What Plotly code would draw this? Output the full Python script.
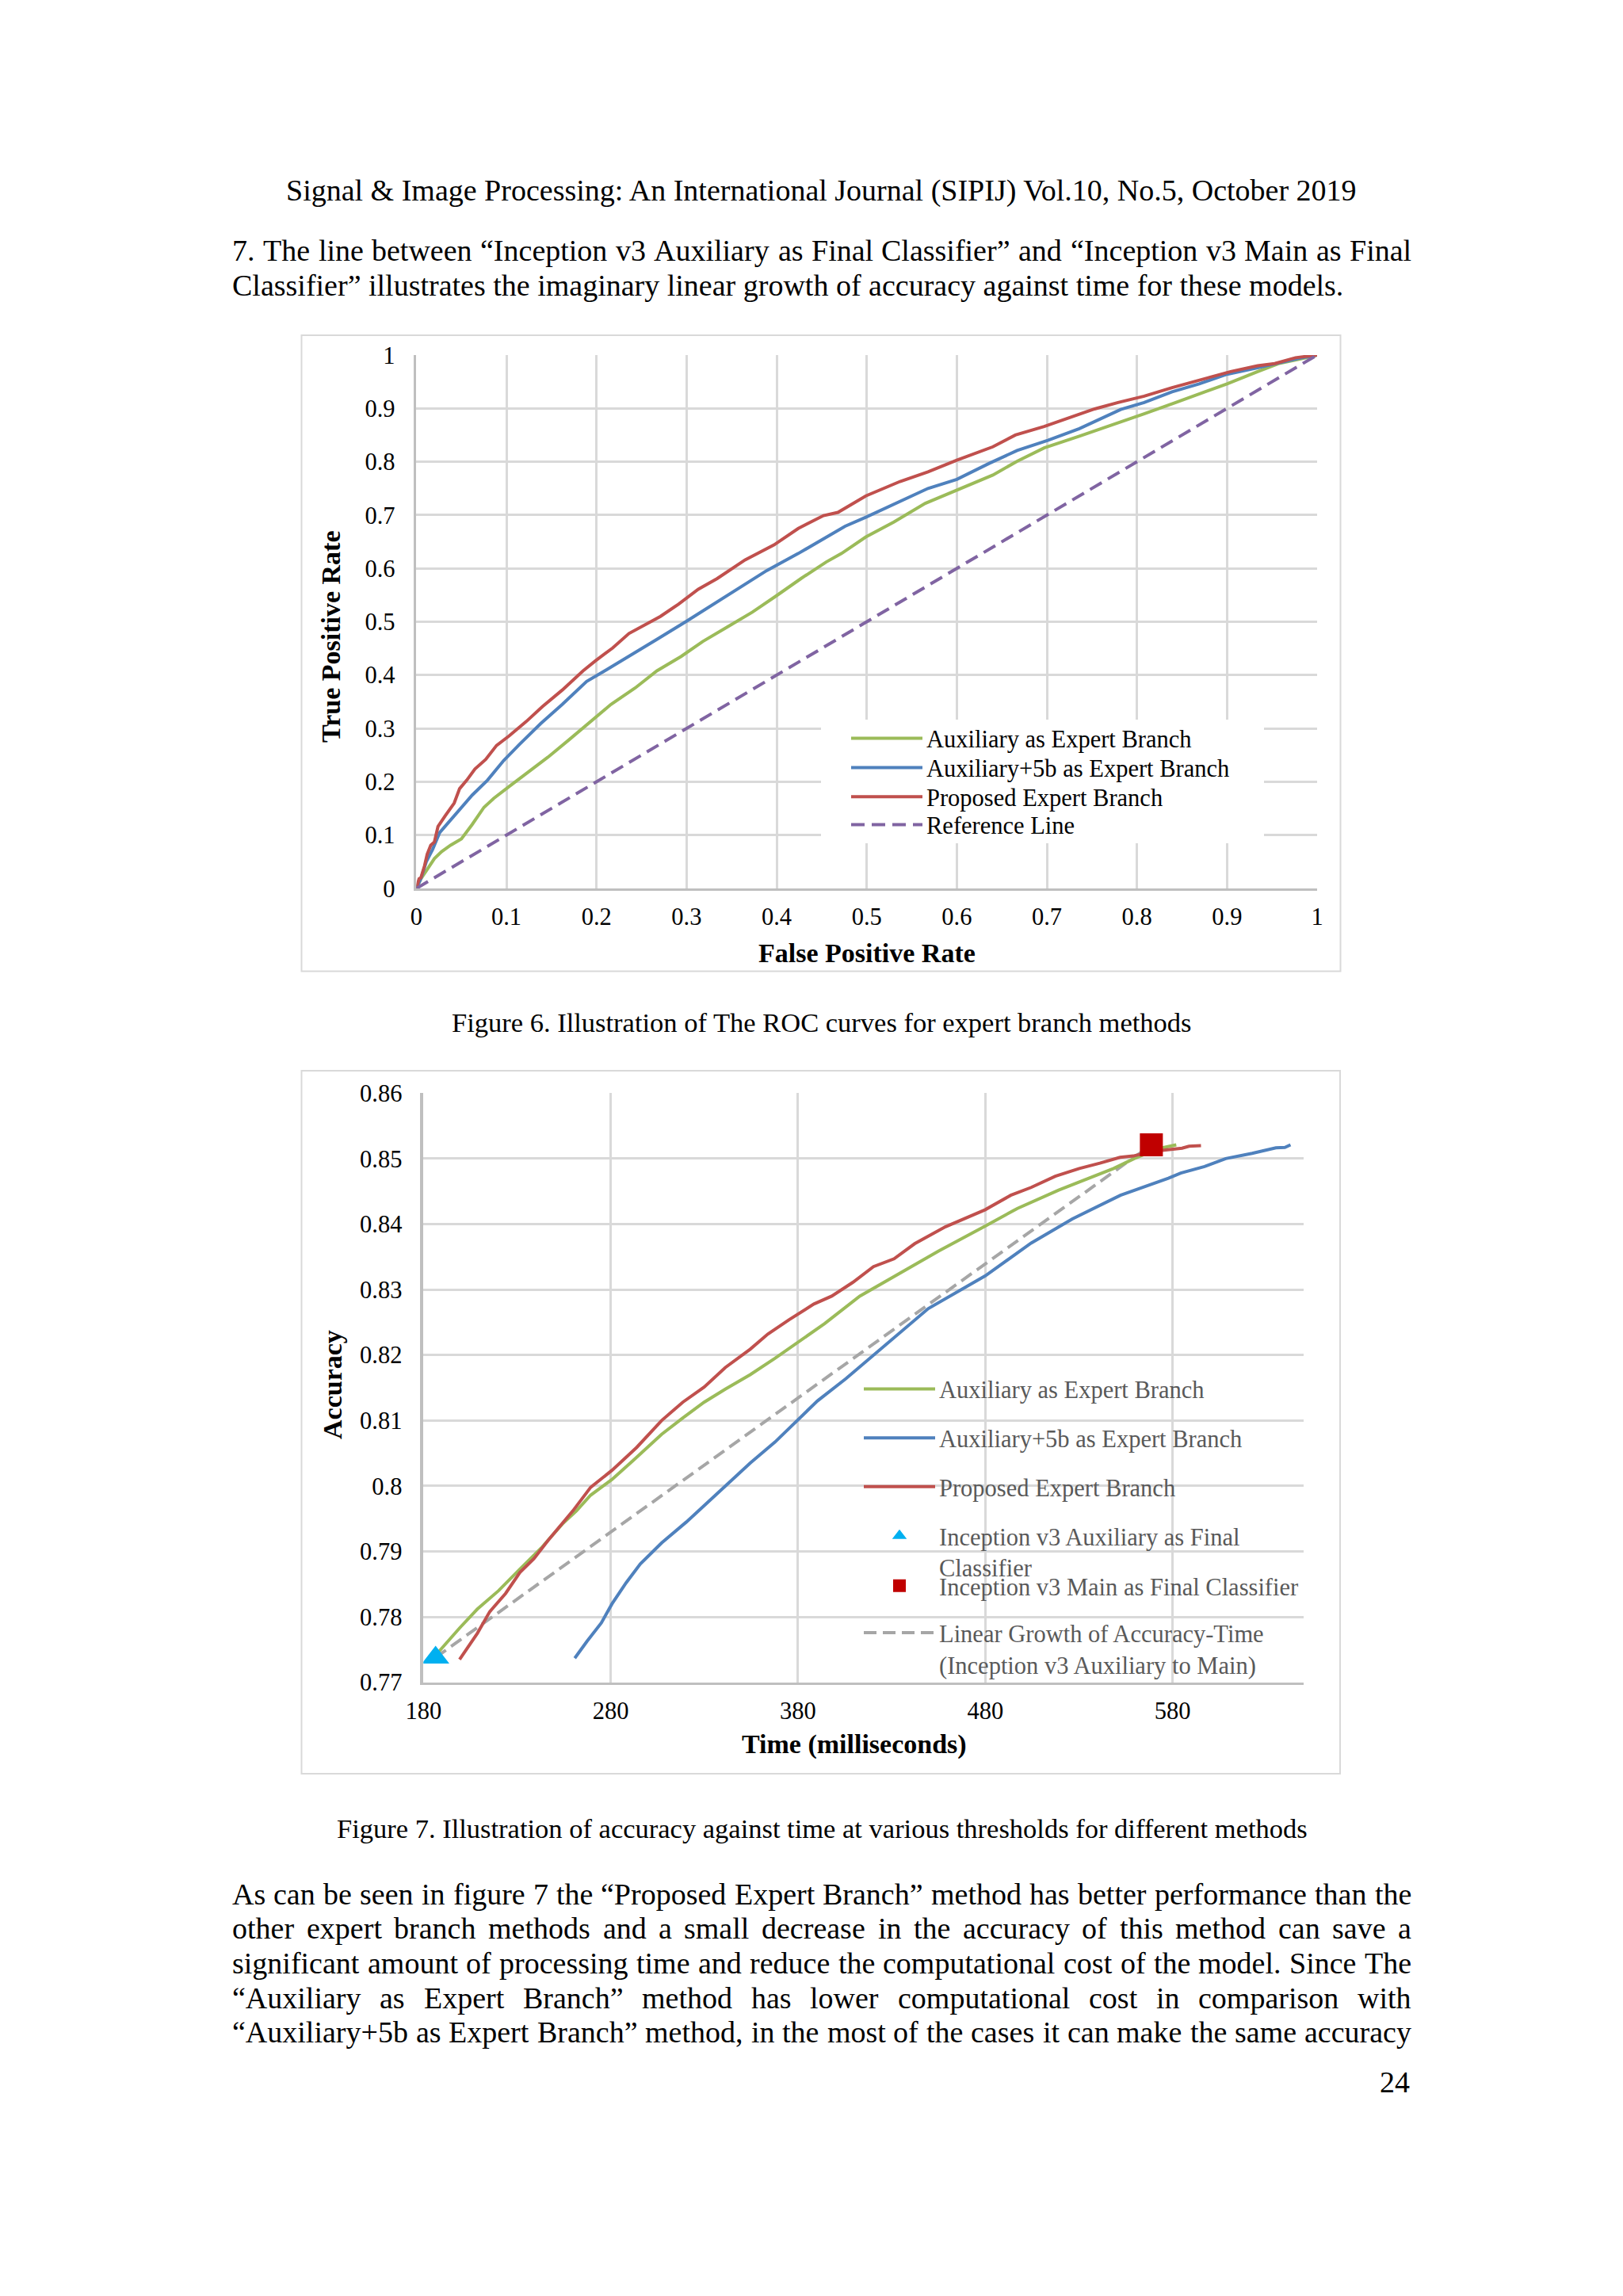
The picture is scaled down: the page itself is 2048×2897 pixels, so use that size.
import plotly.graph_objects as go

PAGE_W, PAGE_H = 2048, 2897
OFF = 8                     # default body margin of the html page
W, H = PAGE_W - 2 * OFF, PAGE_H - 2 * OFF
SERIF = "Liberation Serif, 'Times New Roman', Times, serif"

# ---------------- Figure 6: ROC curves ----------------
roc_ticks = [0, 0.1, 0.2, 0.3, 0.4, 0.5, 0.6, 0.7, 0.8, 0.9, 1]
roc_tick_labels = ["0", "0.1", "0.2", "0.3", "0.4", "0.5", "0.6", "0.7", "0.8", "0.9", "1"]

aux_fpr = [0, 0.005, 0.013, 0.02, 0.028, 0.038, 0.05, 0.062, 0.075, 0.086, 0.103, 0.122, 0.146,
           0.169, 0.196, 0.216, 0.243, 0.267, 0.294, 0.318, 0.345, 0.373, 0.4, 0.427, 0.455, 0.472,
           0.499, 0.53, 0.565, 0.6, 0.64, 0.667, 0.697, 0.736, 0.778, 0.808, 0.843, 0.873, 0.9,
           0.934, 0.957, 0.988, 1.0]
aux_tpr = [0, 0.018, 0.038, 0.056, 0.069, 0.081, 0.093, 0.12, 0.152, 0.169, 0.191, 0.215, 0.246,
           0.278, 0.317, 0.345, 0.376, 0.408, 0.435, 0.463, 0.49, 0.518, 0.549, 0.581, 0.612, 0.628,
           0.659, 0.687, 0.722, 0.746, 0.775, 0.801, 0.826, 0.848, 0.872, 0.89, 0.911, 0.929, 0.946,
           0.969, 0.984, 0.995, 1.0]

aux5b_fpr = [0, 0.005, 0.011, 0.018, 0.026, 0.036, 0.048, 0.062, 0.079, 0.097, 0.115, 0.138, 0.162,
             0.189, 0.209, 0.236, 0.267, 0.299, 0.334, 0.365, 0.389, 0.424, 0.452, 0.476, 0.499,
             0.53, 0.568, 0.6, 0.636, 0.667, 0.701, 0.736, 0.759, 0.782, 0.808, 0.839, 0.869, 0.9,
             0.934, 0.953, 0.98, 1.0]
aux5b_tpr = [0, 0.018, 0.05, 0.073, 0.105, 0.124, 0.148, 0.175, 0.203, 0.24, 0.271, 0.309, 0.345,
             0.388, 0.408, 0.435, 0.467, 0.5, 0.537, 0.57, 0.596, 0.628, 0.655, 0.679, 0.696,
             0.72, 0.75, 0.767, 0.797, 0.821, 0.84, 0.862, 0.88, 0.898, 0.911, 0.931, 0.946, 0.964,
             0.976, 0.984, 0.994, 1.0]

prop_fpr = [0, 0.003, 0.005, 0.009, 0.012, 0.016, 0.02, 0.024, 0.032, 0.042, 0.048, 0.056, 0.065,
            0.077, 0.089, 0.103, 0.122, 0.14, 0.162, 0.185, 0.199, 0.218, 0.236, 0.256, 0.271,
            0.291, 0.313, 0.334, 0.365, 0.397, 0.424, 0.452, 0.468, 0.499, 0.537, 0.568, 0.6,
            0.64, 0.665, 0.697, 0.728, 0.753, 0.779, 0.808, 0.839, 0.873, 0.904, 0.934, 0.953,
            0.976, 1.0]
prop_tpr = [0, 0.018, 0.02, 0.042, 0.064, 0.081, 0.087, 0.116, 0.136, 0.16, 0.187, 0.203, 0.224,
            0.242, 0.268, 0.286, 0.313, 0.341, 0.372, 0.408, 0.427, 0.451, 0.478, 0.496, 0.51,
            0.533, 0.561, 0.581, 0.616, 0.644, 0.675, 0.699, 0.705, 0.736, 0.763, 0.781, 0.803,
            0.828, 0.85, 0.866, 0.885, 0.899, 0.911, 0.923, 0.939, 0.954, 0.969, 0.98, 0.984,
            0.995, 1.0]

ref_fpr = [0, 1]
ref_tpr = [0, 1]

# ---------------- Figure 7: accuracy vs time ----------------
time_ticks = [180, 280, 380, 480, 580]
time_tick_labels = ["180", "280", "380", "480", "580"]
acc_ticks = [0.77, 0.78, 0.79, 0.80, 0.81, 0.82, 0.83, 0.84, 0.85, 0.86]
acc_tick_labels = ["0.77", "0.78", "0.79", "0.8", "0.81", "0.82", "0.83", "0.84", "0.85", "0.86"]

aux_time = [187.0, 199.3, 208.8, 220.1, 231.5, 242.8, 254.2, 261.7, 269.3, 280.7, 292.0, 307.2,
            318.5, 329.9, 341.2, 354.5, 367.7, 381.0, 394.2, 413.0, 431.3, 455.1, 480.0, 497.2,
            519.2, 535.7, 548.5, 559.5, 566.1, 574.6, 582.0]
aux_acc = [0.7743, 0.7783, 0.7812, 0.7840, 0.7873, 0.7905, 0.7942, 0.7962, 0.7986, 0.8010, 0.8039,
           0.8079, 0.8104, 0.8128, 0.8148, 0.8170, 0.8195, 0.8221, 0.8248, 0.8290, 0.8320, 0.8359,
           0.8397, 0.8424, 0.8452, 0.8470, 0.8485, 0.8500, 0.8508, 0.85165, 0.8521]

aux5b_time = [260.8, 262.7, 267.4, 275.0, 280.7, 288.2, 295.8, 307.2, 320.4, 329.9, 341.2, 354.5,
              367.7, 380.0, 390.4, 405.6, 427.6, 449.6, 480.0, 504.5, 526.5, 552.2, 577.8, 584.4,
              597.1, 608.4, 622.5, 635.2, 640.0, 643.0]
aux5b_acc = [0.7737, 0.7745, 0.7763, 0.7791, 0.7820, 0.7852, 0.7881, 0.7913, 0.7945, 0.7970, 0.8000,
             0.8035, 0.8067, 0.8101, 0.8130, 0.8164, 0.8217, 0.8271, 0.8321, 0.8371, 0.8408, 0.8444,
             0.8470, 0.8478, 0.8488, 0.8500, 0.8508, 0.85165, 0.8517, 0.8521]

prop_time = [199.3, 203.1, 208.8, 215.4, 223.9, 231.5, 239.0, 246.6, 259.8, 269.3, 280.7, 293.9,
             307.2, 318.5, 329.9, 341.2, 354.5, 363.9, 375.3, 388.5, 398.0, 409.3, 420.3, 431.3,
             442.3, 458.8, 480.0, 493.6, 504.5, 517.4, 530.2, 541.2, 552.0, 559.0, 570.5, 575.3,
             585.1, 588.8, 595.2]
prop_acc = [0.7735, 0.7751, 0.7775, 0.7808, 0.7836, 0.7868, 0.7889, 0.7917, 0.7962, 0.7998, 0.8024,
            0.8059, 0.8100, 0.8128, 0.8151, 0.8181, 0.8209, 0.8232, 0.8254, 0.8278, 0.8290, 0.8311,
            0.8335, 0.8347, 0.8370, 0.8396, 0.8422, 0.8444, 0.8456, 0.8473, 0.8485, 0.8493, 0.8502,
            0.8504, 0.8512, 0.8513, 0.8516, 0.8519, 0.8520]

aux_final_time = [186.5]
aux_final_acc = [0.7738]
main_final_time = [568.7]
main_final_acc = [0.8521]
linear_time = [186.5, 568.7]
linear_acc = [0.7738, 0.8521]

# ---------------- page text ----------------
header_text = "Signal &amp; Image Processing: An International Journal (SIPIJ) Vol.10, No.5, October 2019"
para1_lines = [
    "7. The line between \u201cInception v3 Auxiliary as Final Classifier\u201d and \u201cInception v3 Main as Final",
    "Classifier\u201d illustrates the imaginary linear growth of accuracy against time for these models.",
]
caption6 = "Figure 6. Illustration of The ROC curves for expert branch methods"
caption7 = "Figure 7. Illustration of accuracy against time at various thresholds for different methods"
para2_lines = [
    "As can be seen in figure 7 the \u201cProposed Expert Branch\u201d method has better performance than the",
    "other expert branch methods and a small decrease in the accuracy of this method can save a",
    "significant amount of processing time and reduce the computational cost of the model. Since The",
    "\u201cAuxiliary as Expert Branch\u201d method has lower computational cost in comparison with",
    "\u201cAuxiliary+5b as Expert Branch\u201d method, in the most of the cases it can make the same accuracy",
]
page_number = "24"

# ---------------- helpers (page pixel -> paper) ----------------
def PX(x):
    return (x - OFF) / W


def PY(y):
    return 1 - (y - OFF) / H


CW = {' ': 250, '.': 250, ',': 250, ':': 278, ';': 278, '(': 333, ')': 333, '+': 564, '-': 333,
      '&': 778, '\u201c': 444, '\u201d': 444, "'": 180,
      'A': 722, 'B': 667, 'C': 667, 'D': 722, 'E': 611, 'F': 556, 'G': 722, 'H': 722, 'I': 333,
      'J': 389, 'K': 722, 'L': 611, 'M': 889, 'N': 722, 'O': 722, 'P': 556, 'Q': 722, 'R': 667,
      'S': 556, 'T': 611, 'U': 722, 'V': 722, 'W': 944, 'X': 722, 'Y': 722, 'Z': 611,
      'a': 444, 'b': 500, 'c': 444, 'd': 500, 'e': 444, 'f': 333, 'g': 500, 'h': 500, 'i': 278,
      'j': 278, 'k': 500, 'l': 278, 'm': 778, 'n': 500, 'o': 500, 'p': 500, 'q': 500, 'r': 333,
      's': 389, 't': 278, 'u': 500, 'v': 500, 'w': 722, 'x': 500, 'y': 500, 'z': 444}


def text_width(s, size):
    return sum(CW.get(c, 500) for c in s) / 1000.0 * size


BODY = 38
LEFT, RIGHT = 292, 1780

fig = go.Figure()


def add_text(text, x, y, size, anchor='left', color='black', weight='normal', angle=0):
    fig.add_annotation(x=PX(x), y=PY(y), xref='paper', yref='paper', text=text, showarrow=False,
                       xanchor=anchor, yanchor='middle', borderpad=0, textangle=angle,
                       font=dict(family=SERIF, size=size, color=color, weight=weight))


def add_justified(line, y, size=BODY):
    words = line.split(' ')
    widths = [text_width(w, size) for w in words]
    gap = max((RIGHT - LEFT - sum(widths)) / (len(words) - 1), 0.2 * size)
    x = LEFT
    for w, wd in zip(words, widths):
        add_text(w, x, y, size)
        x += wd + gap


# ---------------- traces: figure 6 ----------------
LW = 4
fig.add_trace(go.Scatter(x=aux_fpr, y=aux_tpr, mode='lines', name='Auxiliary as Expert Branch',
                         line=dict(color='#9bbb59', width=LW), xaxis='x', yaxis='y', legend='legend'))
fig.add_trace(go.Scatter(x=aux5b_fpr, y=aux5b_tpr, mode='lines', name='Auxiliary+5b as Expert Branch',
                         line=dict(color='#4f81bd', width=LW), xaxis='x', yaxis='y', legend='legend2'))
fig.add_trace(go.Scatter(x=prop_fpr, y=prop_tpr, mode='lines', name='Proposed Expert Branch',
                         line=dict(color='#c0504d', width=LW), xaxis='x', yaxis='y', legend='legend3'))
fig.add_trace(go.Scatter(x=ref_fpr, y=ref_tpr, mode='lines', name='Reference Line',
                         line=dict(color='#8064a2', width=LW, dash='17px,9px'), xaxis='x', yaxis='y',
                         legend='legend4'))

# ---------------- traces: figure 7 ----------------
fig.add_trace(go.Scatter(x=linear_time, y=linear_acc, mode='lines',
                         name='Linear Growth of Accuracy-Time<br>(Inception v3 Auxiliary to Main)',
                         line=dict(color='#a6a6a6', width=LW, dash='16px,8px'), xaxis='x2', yaxis='y2',
                         legend='legend10'))
fig.add_trace(go.Scatter(x=aux_time, y=aux_acc, mode='lines', name='Auxiliary as Expert Branch',
                         line=dict(color='#9bbb59', width=LW), xaxis='x2', yaxis='y2', legend='legend5'))
fig.add_trace(go.Scatter(x=aux5b_time, y=aux5b_acc, mode='lines', name='Auxiliary+5b as Expert Branch',
                         line=dict(color='#4f81bd', width=LW), xaxis='x2', yaxis='y2', legend='legend6'))
fig.add_trace(go.Scatter(x=prop_time, y=prop_acc, mode='lines', name='Proposed Expert Branch',
                         line=dict(color='#c0504d', width=LW), xaxis='x2', yaxis='y2', legend='legend7'))
fig.add_trace(go.Scatter(x=aux_final_time, y=aux_final_acc, mode='markers',
                         name='Inception v3 Auxiliary as Final<br>Classifier',
                         marker=dict(symbol='triangle-up', size=30, color='#00b0f0'),
                         xaxis='x2', yaxis='y2', legend='legend8'))
fig.add_trace(go.Scatter(x=main_final_time, y=main_final_acc, mode='markers',
                         name='Inception v3 Main as Final Classifier',
                         marker=dict(symbol='square', size=29, color='#c00000'),
                         xaxis='x2', yaxis='y2', legend='legend9'))

# ---------------- axes ----------------
tick_font = dict(family=SERIF, size=30.5, color='black')
axis_common = dict(showgrid=True, gridcolor='#d9d9d9', gridwidth=2.5, showline=True,
                   linecolor='#bfbfbf', linewidth=2.5, zeroline=False, ticks='',
                   tickfont=tick_font, automargin=False, fixedrange=True, tickmode='array')

fig.update_layout(
    xaxis=dict(axis_common, domain=[PX(525.4), PX(1662)], range=[0, 1], anchor='y',
               tickvals=roc_ticks, ticktext=roc_tick_labels, ticklabelstandoff=7),
    yaxis=dict(axis_common, domain=[PY(1121), PY(448)], range=[0, 1], anchor='x',
               tickvals=roc_ticks, ticktext=roc_tick_labels, ticklabelstandoff=18),
    xaxis2=dict(axis_common, domain=[PX(534.3), PX(1645)], range=[180, 650], anchor='y2',
                tickvals=time_ticks, ticktext=time_tick_labels, ticklabelstandoff=7),
    yaxis2=dict(axis_common, domain=[PY(2122.8), PY(1379.3)], range=[0.77, 0.86], anchor='x2',
                tickvals=acc_ticks, ticktext=acc_tick_labels, ticklabelstandoff=17, linewidth=3.5),
)

# ---------------- legends (one entry each, placed like the original) ----------------
def legend_cfg(x, y, color, valign='middle'):
    return dict(x=PX(x), y=PY(y), xanchor='left', yanchor='middle', bgcolor='rgba(0,0,0,0)',
                borderwidth=0, itemwidth=90, valign=valign, itemclick=False, itemdoubleclick=False,
                font=dict(family=SERIF, size=30.5, color=color))


leg = {}
for name, yy in zip(['legend', 'legend2', 'legend3', 'legend4'], [931.6, 968.6, 1005.5, 1040.6]):
    leg[name] = legend_cfg(1069, yy, 'black')
legend_y7 = [1752.7, 1814.3, 1876.0, 1957.8, 2001.0, 2080.2]
valigns7 = ['middle', 'middle', 'middle', 'top', 'middle', 'top']
for i, (yy, va) in enumerate(zip(legend_y7, valigns7)):
    leg['legend%d' % (i + 5)] = legend_cfg(1085, yy, '#595959', va)
fig.update_layout(**leg)

# ---------------- frames and legend box ----------------
fig.add_shape(type='rect', xref='paper', yref='paper', x0=PX(380.5), x1=PX(1691.5), y0=PY(423),
              y1=PY(1225.5), line=dict(color='#d9d9d9', width=2), fillcolor='rgba(0,0,0,0)', layer='below')
fig.add_shape(type='rect', xref='paper', yref='paper', x0=PX(380.5), x1=PX(1691), y0=PY(1351),
              y1=PY(2238), line=dict(color='#d9d9d9', width=2), fillcolor='rgba(0,0,0,0)', layer='below')
fig.add_shape(type='rect', xref='paper', yref='paper', x0=PX(1036), x1=PX(1595), y0=PY(908),
              y1=PY(1064), line=dict(width=0), fillcolor='white', layer='above')

# ---------------- axis titles ----------------
add_text('True Positive Rate', 417, 803, 34, anchor='center', weight='bold', angle=-90)
add_text('False Positive Rate', 1093.5, 1202, 34, anchor='center', weight='bold')
add_text('Accuracy', 419, 1747, 34, anchor='center', weight='bold', angle=-90)
add_text('Time (milliseconds)', 1078, 2201, 34, anchor='center', weight='bold')

# ---------------- page text ----------------
add_text(header_text, 1036, 240.3, BODY, anchor='center')
add_justified(para1_lines[0], 316)
add_text(para1_lines[1], LEFT, 360.4, BODY)
add_text(caption6, 1037, 1290, 34.5, anchor='center')
add_text(caption7, 1037, 2307, 34.5, anchor='center')
for line, yy in zip(para2_lines, [2390, 2432.5, 2477, 2521, 2563.7]):
    add_justified(line, yy)
add_text(page_number, RIGHT, 2626.6, BODY, anchor='right')

fig.update_layout(width=W, height=H, margin=dict(l=0, r=0, t=0, b=0, pad=0),
                  paper_bgcolor='white', plot_bgcolor='white', showlegend=True,
                  font=dict(family=SERIF, color='black'))

fig.write_html("out.html")
